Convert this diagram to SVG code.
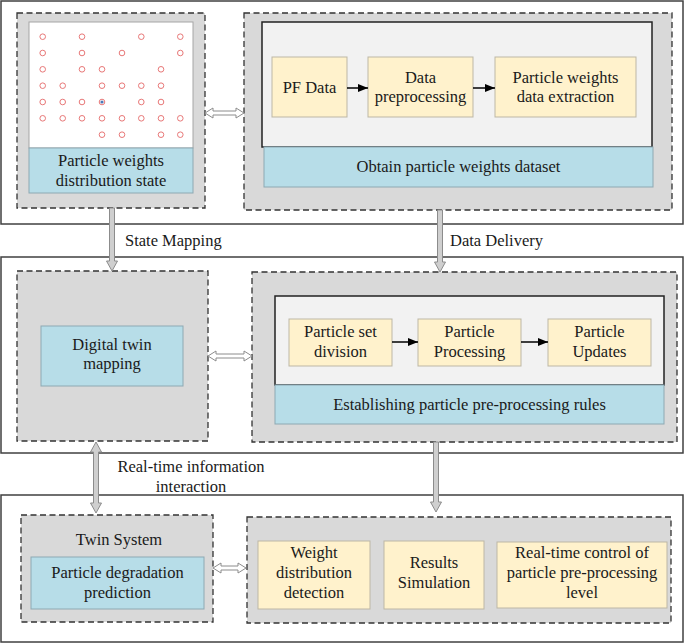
<svg xmlns="http://www.w3.org/2000/svg" width="685" height="644" viewBox="0 0 685 644">
<style>
.frame{fill:#fff;stroke:#404040;stroke-width:1.5}
.dash{fill:#d9d9d9;stroke:#333;stroke-width:1.3;stroke-dasharray:6 3.5}
.inner{fill:#f2f2f2;stroke:#222;stroke-width:1.5}
.blue{fill:#b7dde8;stroke:#8ea9b3;stroke-width:1}
.yel{fill:#fff2cc;stroke:#bdb7a6;stroke-width:1}
.white{fill:#fff;stroke:#a6a6a6;stroke-width:1}
text{font-family:"Liberation Serif","Times New Roman",serif;font-size:16.5px;fill:#1a1a1a;text-anchor:middle}
.lbl{text-anchor:start}
.p{fill:none;stroke:#e87878;stroke-width:1}
.hollow{fill:#fff;stroke:#8c8c8c;stroke-width:1}
.garrow{fill:#cfcfcf;stroke:#8c8c8c;stroke-width:1}
.bl{stroke:#000;stroke-width:1.5;fill:none}
</style>
<defs>
<marker id="ah" markerWidth="10" markerHeight="8" refX="10" refY="4" orient="auto" markerUnits="userSpaceOnUse">
<path d="M0,0 L10,4 L0,8 Z" fill="#000"/>
</marker>
</defs>

<!-- outer frames -->
<rect class="frame" x="1" y="1" width="682" height="223"/>
<rect class="frame" x="1" y="257" width="682" height="196"/>
<rect class="frame" x="1" y="495" width="682" height="147"/>

<g id="particle-state">
<rect class="dash" x="17" y="13" width="188" height="195"/>
<rect class="white" x="29" y="22" width="164" height="126"/>
<rect class="blue" x="29" y="148" width="164" height="45"/>
<text x="111" y="166">Particle weights</text>
<text x="111" y="186">distribution state</text>
<g>
<circle class="p" cx="42.7" cy="36.7" r="2.8"/><circle class="p" cx="82" cy="36.7" r="2.8"/><circle class="p" cx="141.3" cy="36.7" r="2.8"/><circle class="p" cx="180.3" cy="36.7" r="2.8"/>
<circle class="p" cx="42.7" cy="53" r="2.8"/><circle class="p" cx="82" cy="53" r="2.8"/><circle class="p" cx="122" cy="53" r="2.8"/><circle class="p" cx="180.3" cy="53" r="2.8"/>
<circle class="p" cx="42.7" cy="69.3" r="2.8"/><circle class="p" cx="82" cy="69.3" r="2.8"/><circle class="p" cx="102" cy="69.3" r="2.8"/><circle class="p" cx="161" cy="69.3" r="2.8"/>
<circle class="p" cx="42.7" cy="85.7" r="2.8"/><circle class="p" cx="62.7" cy="85.7" r="2.8"/><circle class="p" cx="102" cy="85.7" r="2.8"/><circle class="p" cx="122" cy="85.7" r="2.8"/><circle class="p" cx="141.3" cy="85.7" r="2.8"/><circle class="p" cx="161" cy="85.7" r="2.8"/>
<circle class="p" cx="42.7" cy="102" r="2.8"/><circle class="p" cx="62.7" cy="102" r="2.8"/><circle class="p" cx="82" cy="102" r="2.8"/><circle class="p" cx="102" cy="102" r="2.8"/><circle cx="102" cy="102" r="1.6" fill="#4a78b8"/><circle class="p" cx="141.3" cy="102" r="2.8"/><circle class="p" cx="161" cy="102" r="2.8"/>
<circle class="p" cx="42.7" cy="118.3" r="2.8"/><circle class="p" cx="62.7" cy="118.3" r="2.8"/><circle class="p" cx="82" cy="118.3" r="2.8"/><circle class="p" cx="102" cy="118.3" r="2.8"/><circle class="p" cx="122" cy="118.3" r="2.8"/><circle class="p" cx="141.3" cy="118.3" r="2.8"/><circle class="p" cx="161" cy="118.3" r="2.8"/><circle class="p" cx="180.3" cy="118.3" r="2.8"/>
<circle class="p" cx="102" cy="134.7" r="2.8"/><circle class="p" cx="122" cy="134.7" r="2.8"/><circle class="p" cx="161" cy="134.7" r="2.8"/><circle class="p" cx="180.3" cy="134.7" r="2.8"/>
</g>
</g>

<g id="obtain-dataset">
<rect class="dash" x="244" y="13" width="428" height="197"/>
<rect class="inner" x="262" y="22" width="390" height="125"/>
<rect class="blue" x="264" y="147" width="389" height="40"/>
<text x="458.5" y="172">Obtain particle weights dataset</text>
</g>
<g id="pf-data">
<rect class="yel" x="272" y="57" width="75" height="60"/>
<text x="309.5" y="93">PF Data</text>
</g>
<g id="data-preprocessing">
<rect class="yel" x="368" y="57" width="105" height="60"/>
<text x="420.5" y="83">Data</text>
<text x="420.5" y="102">preprocessing</text>
</g>
<g id="weights-extraction">
<rect class="yel" x="495" y="57" width="141" height="60"/>
<text x="565.5" y="83">Particle weights</text>
<text x="565.5" y="102">data extraction</text>
</g>

<g id="digital-twin">
<rect class="dash" x="17" y="271" width="191" height="170"/>
<rect class="blue" x="41" y="326" width="142" height="60"/>
<text x="112" y="350">Digital twin</text>
<text x="112" y="369">mapping</text>
</g>

<g id="preprocessing-rules">
<rect class="dash" x="252" y="272" width="425" height="170"/>
<rect class="inner" x="275" y="296" width="389" height="89"/>
<rect class="blue" x="275" y="385" width="389" height="39"/>
<text x="469.5" y="410">Establishing particle pre-processing rules</text>
</g>
<g id="set-division">
<rect class="yel" x="289" y="319" width="103" height="47"/>
<text x="340.5" y="337">Particle set</text>
<text x="340.5" y="357">division</text>
</g>
<g id="particle-processing">
<rect class="yel" x="418" y="319" width="103" height="47"/>
<text x="469.5" y="337">Particle</text>
<text x="469.5" y="357">Processing</text>
</g>
<g id="particle-updates">
<rect class="yel" x="548" y="319" width="103" height="47"/>
<text x="599.5" y="337">Particle</text>
<text x="599.5" y="357">Updates</text>
</g>

<g id="twin-system">
<rect class="dash" x="21" y="515" width="192" height="107"/>
<text x="119" y="545">Twin System</text>
<rect class="blue" x="31" y="557" width="173" height="52"/>
<text x="117.5" y="578">Particle degradation</text>
<text x="117.5" y="598">prediction</text>
</g>

<g id="results-group">
<rect class="dash" x="247" y="517" width="424" height="106"/>
</g>
<g id="weight-detection">
<rect class="yel" x="258" y="541" width="112" height="68"/>
<text x="314" y="558">Weight</text>
<text x="314" y="578">distribution</text>
<text x="314" y="598">detection</text>
</g>
<g id="results-simulation">
<rect class="yel" x="384" y="541" width="100" height="68"/>
<text x="434" y="568">Results</text>
<text x="434" y="588">Simulation</text>
</g>
<g id="realtime-control">
<rect class="yel" x="497" y="542" width="170" height="66"/>
<text x="582" y="558">Real-time control of</text>
<text x="582" y="578">particle pre-processing</text>
<text x="582" y="598">level</text>
</g>

<g id="connectors">
<!-- hollow double arrows -->
<path class="hollow" d="M205,113 L213,108 L213,111 L236,111 L236,108 L244,113 L236,118 L236,115 L213,115 L213,118 Z"/>
<path class="hollow" d="M208,356 L216,351 L216,354 L244,354 L244,351 L252,356 L244,361 L244,358 L216,358 L216,361 Z"/>
<path class="hollow" d="M213,568 L221,563 L221,566 L238,566 L238,563 L246,568 L238,573 L238,570 L221,570 L221,573 Z"/>
<!-- gray vertical arrows -->
<path class="garrow" d="M109.5,208 L114.5,208 L114.5,261 L117.5,261 L112,271 L106.5,261 L109.5,261 Z"/>
<path class="garrow" d="M437.5,210 L442.5,210 L442.5,262 L445.5,262 L440,272 L434.5,262 L437.5,262 Z"/>
<path class="garrow" d="M433.5,442 L438.5,442 L438.5,502 L441.5,502 L436,512 L430.5,502 L433.5,502 Z"/>
<path class="garrow" d="M96,442 L101.5,452 L98.5,452 L98.5,503 L101.5,503 L96,513 L90.5,503 L93.5,503 L93.5,452 L90.5,452 Z"/>
<!-- black arrows -->
<line class="bl" x1="347" y1="88" x2="368" y2="88" marker-end="url(#ah)"/>
<line class="bl" x1="473" y1="88" x2="495" y2="88" marker-end="url(#ah)"/>
<line class="bl" x1="392" y1="342" x2="418" y2="342" marker-end="url(#ah)"/>
<line class="bl" x1="521" y1="342" x2="548" y2="342" marker-end="url(#ah)"/>
<!-- labels -->
<text class="lbl" x="125" y="246">State Mapping</text>
<text class="lbl" x="450" y="246">Data Delivery</text>
<text x="191" y="472">Real-time information</text>
<text x="191" y="492">interaction</text>
</g>
</svg>
